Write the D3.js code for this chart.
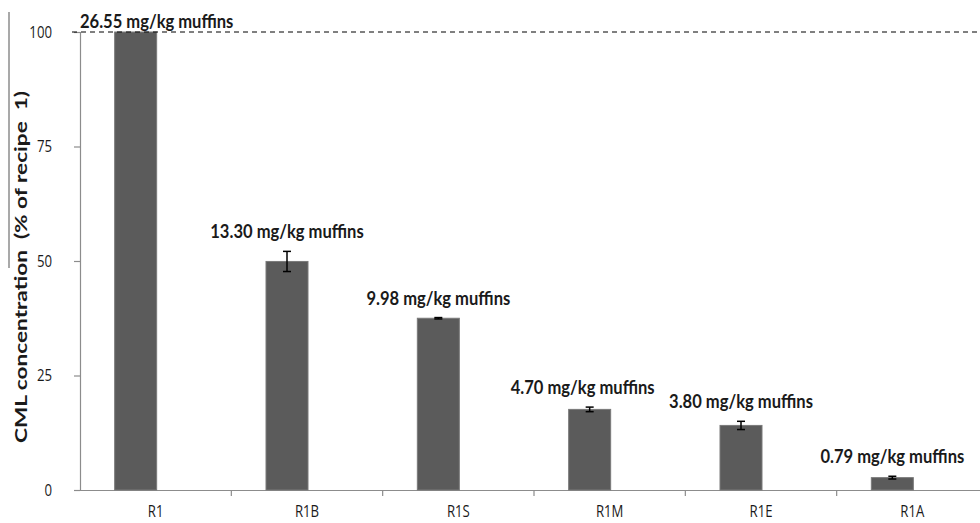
<!DOCTYPE html>
<html>
<head>
<meta charset="utf-8">
<script src="https://cdn.jsdelivr.net/npm/d3@7"></script>
<style>
  html, body { margin: 0; padding: 0; background: #fff; }
  svg { display: block; }
</style>
</head>
<body>
<svg id="chart" width="980" height="523"></svg>
<script>
const categories = ["R1", "R1B", "R1S", "R1M", "R1E", "R1A"];
const values = [100, 49.9, 37.5, 17.6, 14.1, 2.7];
const errors = [0, 2.2, 0.15, 0.5, 0.9, 0.3];
const labels = ["26.55 mg/kg muffins", "13.30 mg/kg muffins", "9.98 mg/kg muffins",
                "4.70 mg/kg muffins", "3.80 mg/kg muffins", "0.79 mg/kg muffins"];
const yTicks = [0, 25, 50, 75, 100];
const referenceValue = 100;

const svg = d3.select("#chart");
const W = 980, H = 523;
const margin = { left: 80, right: -8, top: 32, bottom: 33 };
const plotRight = W - margin.right;
const y0 = H - margin.bottom;

const x = d3.scaleBand().domain(categories).range([margin.left, plotRight]).paddingInner(0).paddingOuter(0);
const y = d3.scaleLinear().domain([0, 100]).range([y0, margin.top]);

const barW = 42;
const barOffset = -20; // bar centre offset from category centre

// the source image is horizontally compressed: squeeze glyphs to match
function squeeze(sel, factor) {
  sel.each(function () {
    const n = this.getComputedTextLength();
    d3.select(this).attr("textLength", n * factor).attr("lengthAdjust", "spacingAndGlyphs");
  });
}

// frame fragment at the far left
svg.append("line").attr("x1", 9).attr("x2", 9).attr("y1", 12).attr("y2", 268)
  .attr("stroke", "#8c8c8c").attr("stroke-width", 1.5);

// y axis
const yAxis = d3.axisLeft(y).tickValues(yTicks).tickSize(6).tickPadding(22);
const gy = svg.append("g").attr("transform", `translate(${margin.left},0)`).call(yAxis);
gy.select(".domain").attr("stroke", "#8c8c8c").attr("stroke-width", 1.2);
gy.selectAll(".tick line").attr("stroke", "#8c8c8c").attr("stroke-width", 1.2);
gy.selectAll(".tick text").attr("font-family", "'Open Sans', sans-serif").attr("font-size", 16.5)
  .attr("fill", "#1a1a1a").call(squeeze, 0.8);

// x axis
const xAxis = d3.axisBottom(x).tickSize(0).tickPadding(16);
const gx = svg.append("g").attr("transform", `translate(0,${y0})`).call(xAxis);
gx.select(".domain").attr("stroke", "#8c8c8c").attr("stroke-width", 1.2);
gx.selectAll(".tick text").attr("font-family", "'Open Sans', sans-serif").attr("font-size", 15.5)
  .attr("fill", "#1a1a1a").call(squeeze, 0.85);
// category boundary ticks
gx.selectAll(".bound").data(categories.slice(1)).enter().append("line")
  .attr("x1", d => x(d)).attr("x2", d => x(d)).attr("y1", 0).attr("y2", 6)
  .attr("stroke", "#8c8c8c").attr("stroke-width", 1.2);

// bars
const cx = d => x(d) + x.bandwidth() / 2 + barOffset;
svg.append("g").selectAll("rect").data(categories).enter().append("rect")
  .attr("x", d => cx(d) - barW / 2)
  .attr("y", (d, i) => y(values[i]))
  .attr("width", barW)
  .attr("height", (d, i) => y(0) - y(values[i]))
  .attr("fill", "#5b5b5b")
  .attr("stroke", "#7a7a7a").attr("stroke-width", 1);

// error bars
const eg = svg.append("g").attr("stroke", "#000").attr("stroke-width", 1.5);
categories.forEach((c, i) => {
  if (errors[i] <= 0) return;
  const xc = cx(c), top = y(values[i] + errors[i]), bot = y(values[i] - errors[i]);
  eg.append("line").attr("x1", xc).attr("x2", xc).attr("y1", top).attr("y2", bot);
  eg.append("line").attr("x1", xc - 4).attr("x2", xc + 4).attr("y1", top).attr("y2", top);
  eg.append("line").attr("x1", xc - 4).attr("x2", xc + 4).attr("y1", bot).attr("y2", bot);
});

// dashed reference line
svg.append("line").attr("x1", 72).attr("x2", W).attr("y1", y(referenceValue)).attr("y2", y(referenceValue))
  .attr("stroke", "#000").attr("stroke-width", 1).attr("stroke-dasharray", "5,4");

// value labels
const labelDx = [21, 0, 0, -7, 0, 0];
svg.append("g").selectAll("text").data(categories).enter().append("text")
  .attr("x", (d, i) => cx(d) + labelDx[i])
  .attr("y", (d, i) => i === 0 ? y(values[i]) - 4 : y(values[i] + errors[i]) - 13)
  .attr("text-anchor", "middle")
  .attr("font-family", "Lato, sans-serif").attr("font-weight", "bold").attr("font-size", 18)
  .attr("fill", "#1a1a1a")
  .text((d, i) => labels[i])
  .call(squeeze, 0.92);

// y axis title
svg.append("text")
  .attr("transform", `translate(27,${(y(0) + y(100)) / 2 + 6}) rotate(-90)`)
  .attr("text-anchor", "middle")
  .attr("font-family", "Lato, sans-serif").attr("font-weight", "bold").attr("font-size", 17)
  .attr("fill", "#1a1a1a")
  .attr("xml:space", "preserve")
  .attr("textLength", 352).attr("lengthAdjust", "spacingAndGlyphs")
  .text("CML concentration  (% of recipe  1)");
</script>
</body>
</html>
